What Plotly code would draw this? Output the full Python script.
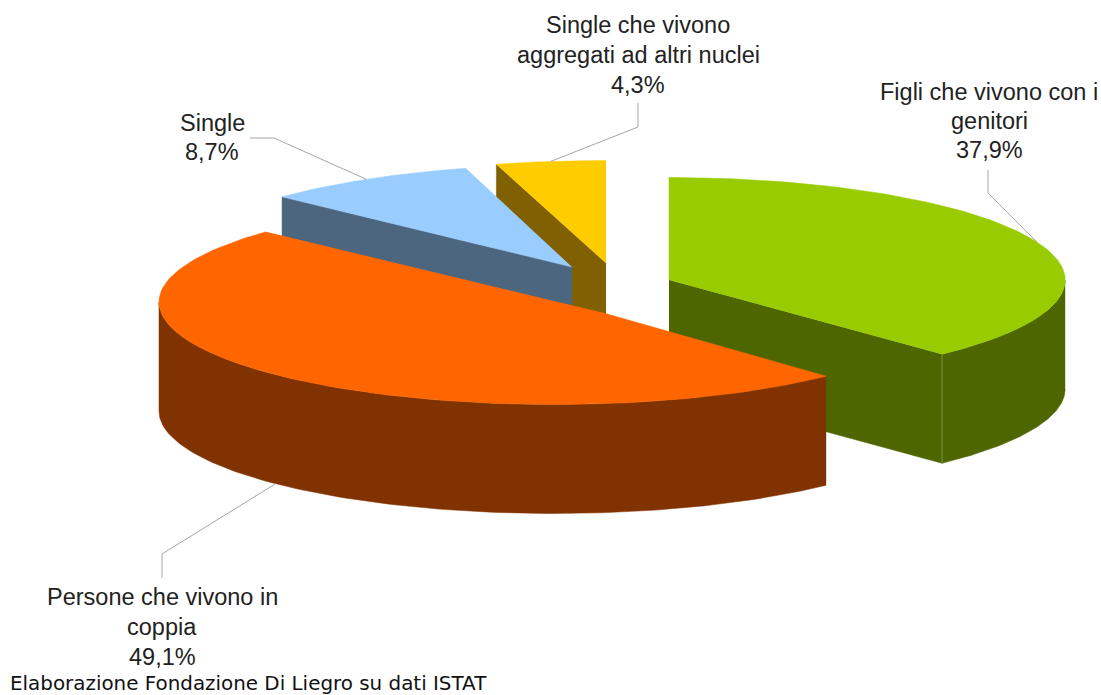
import numpy as np
import plotly.graph_objects as go

# ---- data ----
categories = ["Figli che vivono con i genitori", "Persone che vivono in coppia",
              "Single", "Single che vivono aggregati ad altri nuclei"]
values = [37.9, 49.1, 8.7, 4.3]
value_labels = ["37,9%", "49,1%", "8,7%", "4,3%"]
label_lines = [["Figli che vivono con i", "genitori"],
               ["Persone che vivono in", "coppia"],
               ["Single"],
               ["Single che vivono", "aggregati ad altri nuclei"]]

# ---- styling / projection of the 3D pie ----
top_colors = ["#99CC00", "#FF6600", "#99CCFF", "#FFCC00"]
wall_colors = ["#4D6600", "#803300", "#4D6680", "#806000"]
slice_centers = [(669, 280), (554, 302), (572, 267), (606, 263)]   # exploded position
apex_shift = [(0, 0), (46, 10), (0, 0), (0, 0)]                     # perspective of the inner corner
radius_scale = [1.003, 1.0, 1.007, 1.04]
RX, RY, DEPTH = 395, 102.5, 109
label_anchor = [(989, 92), (162, 597), (212, 123), (638, 25)]       # first line centre
line_step = [29, 30, 29, 30]
elbow = [(988, 193), (162, 554), (274, 138), (638, 127)]
leader_end = [(988, 170), (162, 578), (250, 138), (638, 103)]

def arc(i, a0, a1, dz=0, n=120):
    c = slice_centers[i]
    t = np.radians(np.linspace(a0, a1, n))
    return c[0] + RX * radius_scale[i] * np.sin(t), c[1] - RY * np.cos(t) + dz

fig = go.Figure()

def poly(x, y, color):
    fig.add_trace(go.Scatter(x=list(x), y=list(y), mode="lines", fill="toself", fillcolor=color,
                             line=dict(width=0.5, color=color), hoverinfo="skip", showlegend=False))

cum = np.concatenate([[0], np.cumsum(values)]) * 3.6
starts, ends = cum[:-1], cum[1:]

def draw_slice(i):
    c, a0, a1 = slice_centers[i], starts[i], ends[i]
    ap = (c[0] + apex_shift[i][0], c[1] + apex_shift[i][1])
    wall, top = wall_colors[i], top_colors[i]
    if i == 0:   # green: cut face and outer wall on the front
        ex, ey = arc(i, a1, a1, n=1)
        poly([ap[0], ex[0], ex[0], ap[0]], [ap[1], ey[0], ey[0] + DEPTH, ap[1] + DEPTH], wall)
        x, y = arc(i, 90, a1)
        poly(np.r_[x, x[::-1]], np.r_[y, (y + DEPTH)[::-1]], wall)
        fig.add_trace(go.Scatter(x=[ex[0], ex[0]], y=[ey[0], ey[0] + DEPTH], mode="lines",
                                 line=dict(width=1, color="#7F9440"), hoverinfo="skip", showlegend=False))
    elif i == 1:  # orange: outer wall on the front
        x, y = arc(i, a0, 270)
        poly(np.r_[x, x[::-1]], np.r_[y, (y + DEPTH)[::-1]], wall)
    else:         # blue / yellow: cut face on the left
        ex, ey = arc(i, a0, a0, n=1)
        poly([ap[0], ex[0], ex[0], ap[0]], [ap[1], ey[0], ey[0] + DEPTH, ap[1] + DEPTH], wall)
    x, y = arc(i, a0, a1)
    poly(np.r_[ap[0], x], np.r_[ap[1], y], top)

for i in [3, 2, 0, 1]:
    draw_slice(i)

# leader lines, attached to the middle of each slice
for i in range(4):
    mid = (starts[i] + ends[i]) / 2
    dz = DEPTH if i == 1 else 0
    mx, my = arc(i, mid, mid, dz, n=1)
    fig.add_trace(go.Scatter(x=[leader_end[i][0], elbow[i][0], mx[0]],
                             y=[leader_end[i][1], elbow[i][1], my[0]],
                             mode="lines", line=dict(width=1, color="#A6A6A6"),
                             hoverinfo="skip", showlegend=False))

# labels, one annotation per line for the original line spacing
for i in range(4):
    lines = label_lines[i] + [value_labels[i]]
    for k, txt in enumerate(lines):
        fig.add_annotation(x=label_anchor[i][0],
                           y=label_anchor[i][1] + k * line_step[i], text=txt, showarrow=False,
                           xanchor="center", yanchor="middle",
                           font=dict(family="Liberation Sans", size=23.5, color="#222222"))

fig.add_annotation(x=8, y=683, text="Elaborazione Fondazione Di Liegro su dati ISTAT", showarrow=False,
                   xanchor="left", yanchor="middle",
                   font=dict(family="DejaVu Sans", size=19.9, color="#111111"))

fig.update_layout(width=1101, height=695, margin=dict(l=0, r=0, t=0, b=0),
                  paper_bgcolor="white", plot_bgcolor="white", showlegend=False,
                  xaxis=dict(range=[0, 1101], visible=False, fixedrange=True),
                  yaxis=dict(range=[695, 0], visible=False, fixedrange=True))

fig.write_html("out.html", config={"displayModeBar": False},
               post_script="document.body.style.margin='0';document.body.style.overflow='hidden';")
